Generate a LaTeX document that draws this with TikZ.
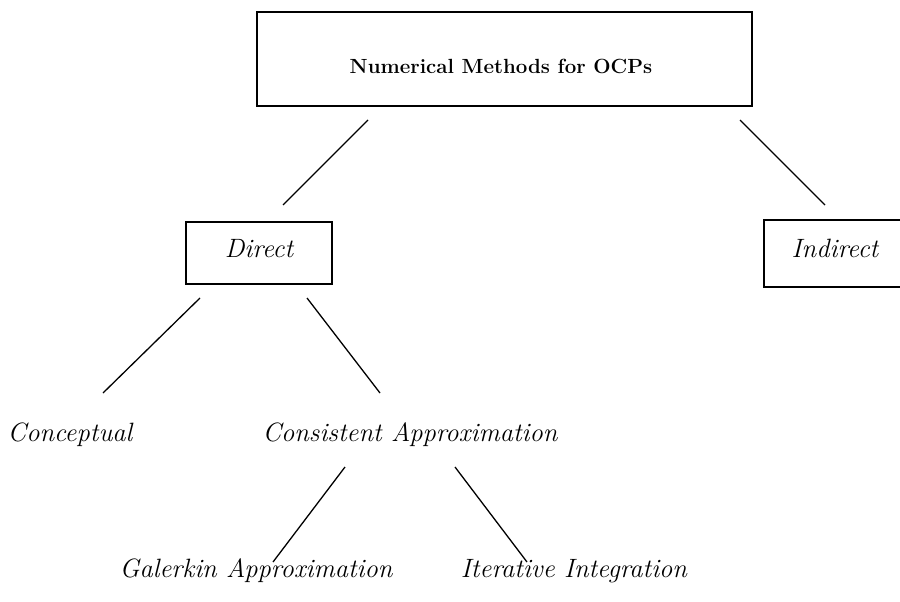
\documentclass[tikz,border=0pt]{standalone}
\begin{document}
\begin{tikzpicture}[x=1pt,y=-1pt,
  box/.style={draw, line width=1.8pt, inner sep=0pt},
  link/.style={line width=1.3pt},
  titletext/.style={font=\fontsize{20.5}{25}\selectfont\bfseries, anchor=base, inner sep=0pt},
  leaf/.style={font=\fontsize{26.5}{30}\selectfont\itshape, anchor=base, inner sep=0pt}]
\useasboundingbox (0,0) rectangle (900,602);

% boxes
\node[box, minimum width=495pt, minimum height=94pt] (topbox) at (504.5,59) {};
\node[box, minimum width=146pt, minimum height=62pt] (directbox) at (259,253) {};
\draw[box] (905,220) -- (764,220) -- (764,287) -- (905,287);

% texts
\node[titletext] (title) at (501,74) {Numerical Methods for OCPs};
\node[leaf] (direct) at (259,257) {Direct};
\node[leaf] (indirect) at (835,257) {Indirect};
\node[leaf] (conceptual) at (70,441) {Conceptual};
\node[leaf] (consistent) at (410,441) {Consistent Approximation};
\node[leaf] (galerkin) at (256,577) {Galerkin Approximation};
\node[leaf] (iterative) at (574,577) {Iterative Integration};

% connector end points
\coordinate (t1) at (368,120);  \coordinate (d1) at (283,205);
\coordinate (t2) at (740,120);  \coordinate (i1) at (825,205);
\coordinate (d2) at (200,298);  \coordinate (c1) at (103,393);
\coordinate (d3) at (307,298);  \coordinate (s1) at (380,393);
\coordinate (s2) at (345,467);  \coordinate (g1) at (273,562);
\coordinate (s3) at (455,467);  \coordinate (r1) at (527,562);

\draw[link] (t1) -- (d1);
\draw[link] (t2) -- (i1);
\draw[link] (d2) -- (c1);
\draw[link] (d3) -- (s1);
\draw[link] (s2) -- (g1);
\draw[link] (s3) -- (r1);
\end{tikzpicture}
\end{document}
